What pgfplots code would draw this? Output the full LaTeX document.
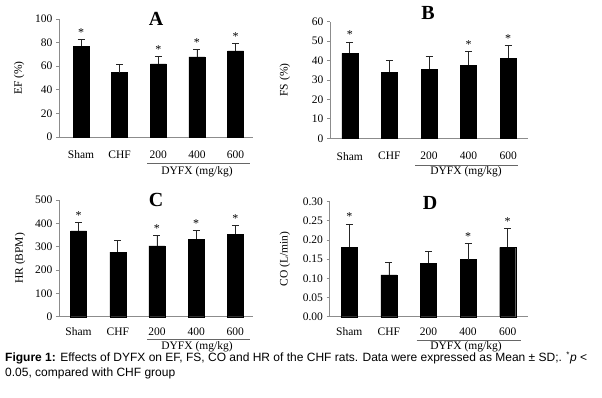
\documentclass[border=0pt]{standalone}
\usepackage{pgfplots}
\pgfplotsset{compat=1.18}
\usepackage{fontspec}
\setmainfont{Liberation Serif}
\newfontfamily\capfont{Liberation Sans}

\pgfplotsset{
 panel/.style={
  scale only axis, anchor=south west,
  axis x line*=bottom, axis y line*=left,
  axis line style={draw=black!45, line width=0.8pt},
  ymin=0, enlargelimits=false,
  xtick={0,1,2,3,4}, xticklabels={Sham,CHF,200,400,600},
  major x tick style={draw=none},
  tick align=outside, major tick length=3pt,
  major y tick style={draw=black!45, line width=0.8pt},
  ticklabel style={font=\fontsize{11.5}{13}\selectfont},
  label style={font=\fontsize{11.5}{13}\selectfont},
  /pgf/number format/assume math mode=true,
  clip=false,
 },
 bars/.style={ybar, bar width=16pt, fill=black, draw=black,
   error bars/.cd, y dir=plus, y explicit,
   error bar style={black!85, line width=0.8pt},
   error mark options={rotate=90, black!85, mark size=3.5pt, line width=0.8pt}},
 stars/.style={draw=none, mark=none, forget plot,
   nodes near coords={*},
   every node near coord/.style={anchor=base, yshift=3pt, font=\fontsize{12}{13}\selectfont, text=black}},
}

\begin{document}
\begin{tikzpicture}
\useasboundingbox (0,0) rectangle (602pt,397pt);

% Panel A
\begin{axis}[panel, at={(59pt,260pt)}, width=194pt, height=118pt,
  xmin=-0.57, xmax=4.45, ymax=100, ytick={0,20,40,60,80,100},
  ylabel={EF (\%)}, ylabel shift=4pt, xticklabel style={yshift=-7pt}]
\addplot[bars] table[x=x, y=y, y error=e]{
x y e
0 77 6
1 54.5 7
2 62 6
3 68 6
4 73 6.5
};
\addplot[stars] coordinates {(0,83) (2,68) (3,74) (4,79.5)};
\end{axis}

% Panel B
\begin{axis}[panel, at={(330pt,258.7pt)}, width=198pt, height=116.6pt,
  xmin=-0.5, xmax=4.5, ymax=60, ytick={0,10,20,30,40,50,60},
  ylabel={FS (\%)}, ylabel shift=15pt, xticklabel style={yshift=-7.5pt}]
\addplot[bars] table[x=x, y=y, y error=e]{
x y e
0 43.7 5.9
1 34 6.1
2 35.5 6.7
3 37.5 7.4
4 41.2 6.5
};
\addplot[stars] coordinates {(0,49.6) (3,44.9) (4,47.7)};
\end{axis}

% Panel C
\begin{axis}[panel, at={(59pt,80.3pt)}, width=194pt, height=116.7pt,
  xmin=-0.5, xmax=4.45, ymax=500, ytick={0,100,200,300,400,500},
  ylabel={HR (BPM)}, ylabel shift=3pt, xticklabel style={yshift=-4.5pt}]
\addplot[bars] table[x=x, y=y, y error=e]{
x y e
0 368 36
1 277 49
2 303 44
3 331 40
4 353 38
};
\addplot[stars] coordinates {(0,404) (2,347) (3,371) (4,391)};
\end{axis}

% Panel D
\begin{axis}[panel, at={(329.5pt,80.3pt)}, width=198pt, height=115pt,
  xmin=-0.5, xmax=4.5, ymax=0.3, ytick={0,0.05,0.1,0.15,0.2,0.25,0.3},
  yticklabel style={/pgf/number format/.cd, fixed, fixed zerofill, precision=2},
  ylabel={CO (L/min)}, ylabel shift=6pt, xticklabel style={yshift=-4.5pt}]
\addplot[bars] table[x=x, y=y, y error=e]{
x y e
0 0.181 0.061
1 0.109 0.032
2 0.139 0.031
3 0.149 0.041
4 0.181 0.049
};
\addplot[stars] coordinates {(0,0.242) (3,0.19) (4,0.23)};
\end{axis}

% group underlines and labels
\draw[black!60, line width=0.8pt] (147pt,233.7pt) -- (250pt,233.7pt);
\node[font=\fontsize{11.5}{13}\selectfont] at (197pt,225pt) {DYFX (mg/kg)};
\draw[black!60, line width=0.8pt] (415pt,232pt) -- (518pt,232pt);
\node[font=\fontsize{11.5}{13}\selectfont] at (466pt,225.3pt) {DYFX (mg/kg)};
\draw[black!60, line width=0.8pt] (147pt,57.7pt) -- (250pt,57.7pt);
\node[font=\fontsize{11.5}{13}\selectfont, inner sep=1pt] at (197pt,50.5pt) {DYFX (mg/kg)};
\draw[black!60, line width=0.8pt] (416.7pt,56.3pt) -- (520.7pt,56.3pt);
\node[font=\fontsize{11.5}{13}\selectfont, inner sep=1pt] at (466pt,50.5pt) {DYFX (mg/kg)};

% panel titles
\node[font=\bfseries\fontsize{20}{22}\selectfont] at (156pt,378pt) {A};
\node[font=\bfseries\fontsize{20}{22}\selectfont] at (428pt,384pt) {B};
\node[font=\bfseries\fontsize{20}{22}\selectfont] at (156pt,197pt) {C};
\node[font=\bfseries\fontsize{20}{22}\selectfont] at (430pt,194pt) {D};

% caption
\node[anchor=base west, inner sep=0pt, font=\capfont\fontsize{12}{14}\selectfont] at (5pt,35.5pt)
  {\textbf{Figure 1:} Effects of DYFX on EF, FS, CO and HR of the CHF rats. Data were expressed as Mean ± SD;. \textsuperscript{*}\textit{p} <};
\node[anchor=base west, inner sep=0pt, font=\capfont\fontsize{12}{14}\selectfont] at (5pt,20.5pt)
  {0.05, compared with CHF group};
\end{tikzpicture}
\end{document}
